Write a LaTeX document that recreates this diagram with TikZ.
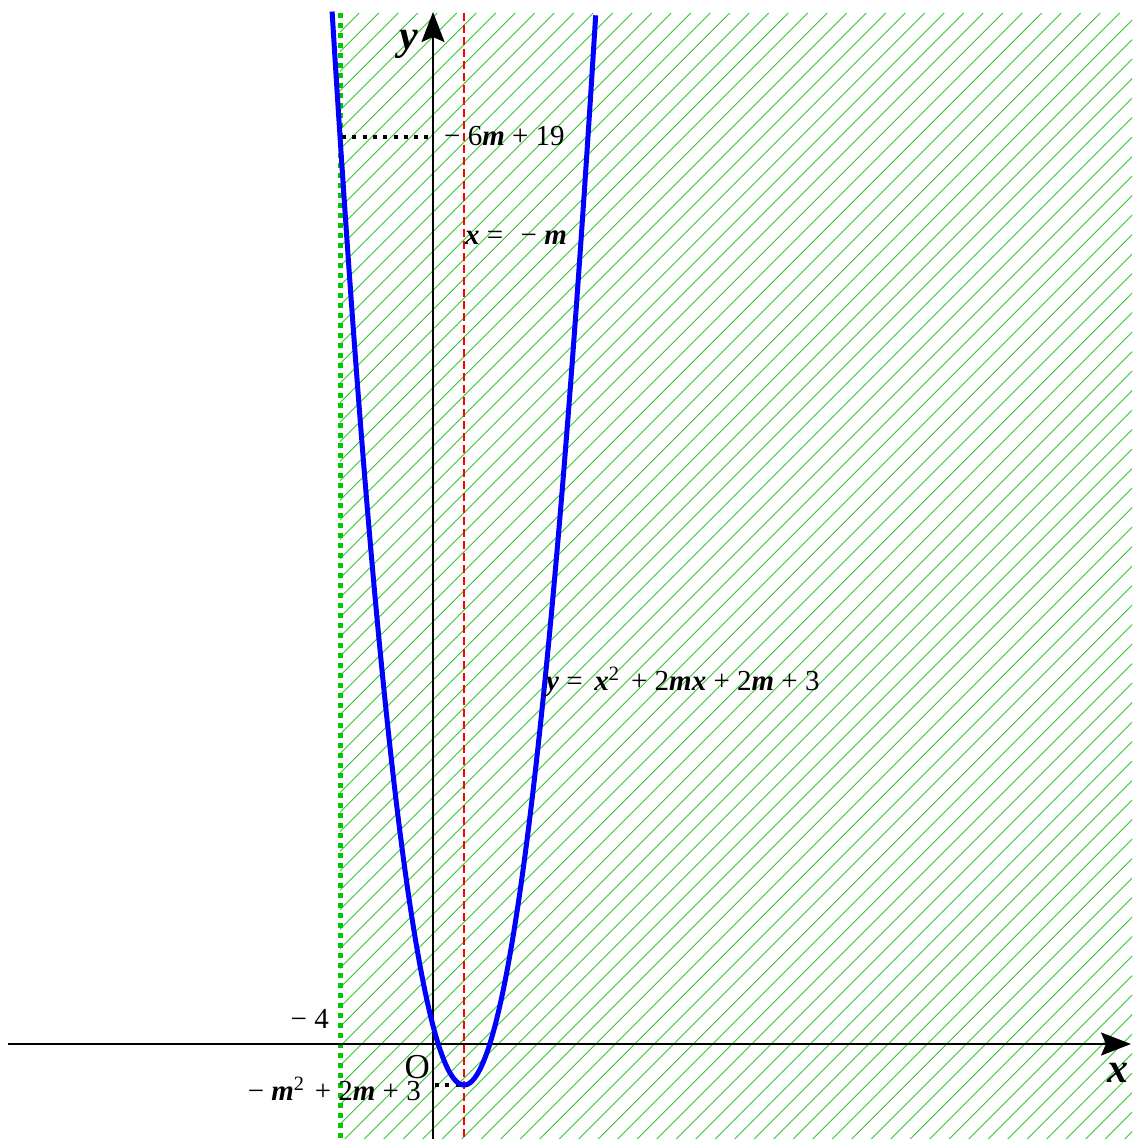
\documentclass[tikz,border=0pt]{standalone}
\usepackage{fontspec}
\setmainfont{Liberation Serif}
\usetikzlibrary{arrows.meta}
\newcommand{\bv}[1]{\textbf{\textit{#1}}}
\definecolor{hatchgreen}{RGB}{50,200,50}
\definecolor{dotgreen}{RGB}{0,200,0}
\begin{document}
\begin{tikzpicture}[x=1pt,y=-1pt,
  axis/.style={line width=2pt,-{Stealth[length=30pt,width=23pt,inset=5pt]}},
  hatchline/.style={hatchgreen,line width=0.9pt},
  greenline/.style={dotgreen,line width=5pt,dash pattern=on 5pt off 5pt},
  blackdots/.style={black,line width=4pt,dash pattern=on 4pt off 6.3pt},
  redline/.style={red,line width=2pt,dash pattern=on 8pt off 4pt},
  curve/.style={blue,line width=5pt},
  lbl/.style={inner sep=0pt,font=\fontsize{29}{34}\selectfont},
  axlbl/.style={inner sep=0pt,font=\fontsize{42}{48}\selectfont}]
\useasboundingbox (0,0) rectangle (1132,1139);
% hatched region
\begin{scope}
  \clip (340,13) rectangle (1132,1139);
  \foreach \k in {-15,...,86}{
    \pgfmathsetmacro{\hc}{625.7+19.5*\k}
    \draw[hatchline] (\hc-1139,1139) -- (\hc-13,13);
  }
\end{scope}
% coordinates
\coordinate (gtop) at (340,13);
\coordinate (gbot) at (340,1139);
\coordinate (rtop) at (464,13);
\coordinate (rbot) at (464,1139);
\coordinate (xs) at (8,1044);
\coordinate (xe) at (1131,1044);
\coordinate (ys) at (433,1139);
\coordinate (ye) at (433,12);
\coordinate (p1) at (342,137);
\coordinate (p1y) at (431,137);
\coordinate (v) at (464,1085);
\coordinate (vy) at (435,1085);
% lines
\draw[greenline] (gtop) -- (gbot);
\draw[redline] (rtop) -- (rbot);
\draw[axis] (xs) -- (xe);
\draw[axis] (ys) -- (ye);
\draw[blackdots] (p1) -- (p1y);
\draw[blackdots] (vy) -- (v);
\draw[curve] plot[domain=-1.319:1.319,samples=200] ({464+100*\x},{1085-617*\x*\x});
% labels
\node[lbl,anchor=base west] (l1) at (444,146) {− 6\bv{m} + 19};
\node[lbl,anchor=base west] (l2) at (465,245) {\bv{x} =\hspace{0.6em}− \bv{m}};
\node[lbl,anchor=base west] (l3) at (546,690) {\bv{y} =\hspace{0.4em}\bv{x}\textsuperscript{2}\hspace{0.4em}+ 2\bv{mx} + 2\bv{m} + 3};
\node[lbl,anchor=base east] (l4) at (329,1028) {− 4};
\node[lbl,anchor=base east] (l5) at (421,1100) {− \bv{m}\textsuperscript{2}\hspace{0.35em}+ 2\bv{m} + 3};
\node[inner sep=0pt,font=\fontsize{35}{40}\selectfont,anchor=base east] (lo) at (430,1078) {O};
\node[axlbl,anchor=base east] (ly) at (418,50) {\bv{y}};
\node[axlbl,anchor=base west] (lx) at (1107,1082) {\bv{x}};
\end{tikzpicture}
\end{document}
